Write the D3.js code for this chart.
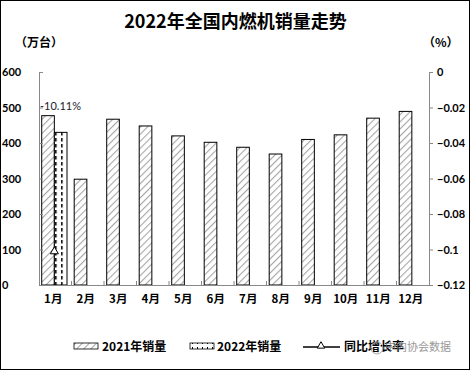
<!DOCTYPE html>
<html lang="zh">
<head>
    <meta charset="utf-8">
    <title>2022年全国内燃机销量走势</title>
    <script src="https://d3js.org/d3.v7.min.js"></script>
    <style>
        body { margin: 0; background: #fff; }
        text { font-family: Lato, "Noto Sans CJK SC", sans-serif; }
        .cjk { font-family: "Noto Sans CJK SC", sans-serif; }
    </style>
</head>
<body>
<svg width="471" height="371" id="mainsvg"></svg>
<script>
    // data
    const months = ['1月','2月','3月','4月','5月','6月','7月','8月','9月','10月','11月','12月']
    const sales2021 = [477, 298, 467, 448, 420, 402, 388, 369, 410, 423, 470, 489]
    const sales2022 = [430]              // only Jan
    const growth = [-0.1011]             // only Jan
    const growthLabels = ['-10.11%']
    const leftTicks = [0, 100, 200, 300, 400, 500, 600]
    const rightTicks = [0, -0.02, -0.04, -0.06, -0.08, -0.1, -0.12]

    const svg = d3.select('#mainsvg')
    const width = +svg.attr('width')
    const height = +svg.attr('height')
    const margin = {top: 72, right: 42, bottom: 86, left: 39}
    const innerWidth = width - margin.left - margin.right
    const innerHeight = height - margin.top - margin.bottom

    const xScale = d3.scaleBand().domain(months).range([0, innerWidth]).padding(0)
    const subScale = d3.scaleBand().domain(['2021', '2022']).range([2.7, 28])
    const yScale = d3.scaleLinear().domain([0, 600]).range([innerHeight, 0])
    const y2Scale = d3.scaleLinear().domain([-0.12, 0]).range([innerHeight, 0])

    // patterns
    const defs = svg.append('defs')
    const hatch = defs.append('pattern').attr('id', 'hatch')
        .attr('patternUnits', 'userSpaceOnUse').attr('width', 5).attr('height', 5)
        .attr('patternTransform', 'rotate(45)')
    hatch.append('rect').attr('width', 5).attr('height', 5).attr('fill', '#fff')
    hatch.append('line').attr('x1', 0).attr('y1', 0).attr('x2', 0).attr('y2', 5)
        .attr('stroke', '#a6a6a6').attr('stroke-width', 2.2)
    const dash = defs.append('pattern').attr('id', 'dash')
        .attr('patternUnits', 'userSpaceOnUse').attr('width', 6).attr('height', 6)
        .attr('x', subScale('2022') + 0.75)
    dash.append('rect').attr('width', 6).attr('height', 6).attr('fill', '#fff')
    dash.append('line').attr('x1', 0.75).attr('y1', 0).attr('x2', 0.75).attr('y2', 3.5)
        .attr('stroke', '#000').attr('stroke-width', 1.5)
    const dashLeg = defs.append('pattern').attr('id', 'dashLeg')
        .attr('patternUnits', 'userSpaceOnUse').attr('width', 5).attr('height', 6)
    dashLeg.append('rect').attr('width', 5).attr('height', 6).attr('fill', '#fff')
    dashLeg.append('line').attr('x1', 2.5).attr('y1', 0).attr('x2', 2.5).attr('y2', 3)
        .attr('stroke', '#000').attr('stroke-width', 1)

    // border
    svg.append('rect').attr('x', 0.5).attr('y', 0.5).attr('width', width - 2).attr('height', height - 2)
        .attr('fill', '#fff').attr('stroke', '#000').attr('stroke-width', 1)

    // title
    svg.append('text').attr('class', 'cjk').text('2022年全国内燃机销量走势')
        .attr('x', width / 2).attr('y', 28).attr('text-anchor', 'middle')
        .attr('font-size', 18).attr('font-weight', 'bold')
    svg.append('text').attr('class', 'cjk').text('（万台）')
        .attr('x', 15).attr('y', 47).attr('font-size', 12).attr('font-weight', 'bold')
    svg.append('text').attr('class', 'cjk').text('（%）')
        .attr('x', 423).attr('y', 47).attr('font-size', 12).attr('font-weight', 'bold')

    const g = svg.append('g').attr('transform', `translate(${margin.left}, ${margin.top})`)

    // bars 2021
    g.selectAll('.b21').data(sales2021).join('rect').attr('class', 'b21')
        .attr('x', (d, i) => xScale(months[i]) + subScale('2021'))
        .attr('width', subScale.bandwidth())
        .attr('y', d => yScale(d))
        .attr('height', d => innerHeight - yScale(d))
        .attr('fill', 'url(#hatch)').attr('stroke', '#000').attr('stroke-width', 1)

    // bars 2022
    g.selectAll('.b22').data(sales2022).join('rect').attr('class', 'b22')
        .attr('x', (d, i) => xScale(months[i]) + subScale('2022'))
        .attr('width', subScale.bandwidth())
        .attr('y', d => yScale(d))
        .attr('height', d => innerHeight - yScale(d))
        .attr('fill', 'url(#dash)').attr('stroke', '#000').attr('stroke-width', 1)

    // axes
    const yAxis = d3.axisLeft(yScale).tickValues(leftTicks).tickSizeInner(-4).tickSizeOuter(-4).tickPadding(18)
    const yG = g.append('g').call(yAxis)
    yG.selectAll('text').attr('font-size', 11).attr('font-weight', 'bold').attr('fill', '#000')
        .attr('text-anchor', 'start').attr('x', -37)

    const y2Axis = d3.axisRight(y2Scale).tickValues(rightTicks).tickSizeInner(4).tickSizeOuter(4).tickPadding(4)
        .tickFormat(d => d === 0 ? '0' : d3.format('')(+d.toFixed(2)))
    const y2G = g.append('g').attr('transform', `translate(${innerWidth}, 0)`).call(y2Axis)
    y2G.selectAll('text').attr('font-size', 11).attr('font-weight', 'bold').attr('fill', '#000')

    const xAxis = d3.axisBottom(xScale).tickSize(0).tickPadding(10)
    const xG = g.append('g').attr('transform', `translate(0, ${innerHeight})`).call(xAxis)
    xG.selectAll('text').attr('class', 'cjk').attr('font-size', 11.5).attr('font-weight', 'bold')
        .attr('fill', '#000').attr('dx', -2)
    // category boundary ticks
    g.selectAll('.xt').data(months.slice(1)).join('line').attr('class', 'xt')
        .attr('x1', d => xScale(d)).attr('x2', d => xScale(d))
        .attr('y1', innerHeight).attr('y2', innerHeight - 4)
        .attr('stroke', '#888')
    g.selectAll('.domain, .tick line').attr('stroke', '#888')

    // growth line point
    g.selectAll('.gpt').data(growth).join('path').attr('class', 'gpt')
        .attr('d', d3.symbol().type(d3.symbolTriangle).size(28))
        .attr('transform', (d, i) => `translate(${xScale(months[i]) + subScale('2022')}, ${y2Scale(d)})`)
        .attr('fill', '#fff').attr('stroke', '#000').attr('stroke-width', 1)
    g.selectAll('.glab').data(growthLabels).join('text').attr('class', 'glab')
        .text(d => d)
        .attr('x', (d, i) => xScale(months[i]) + 1)
        .attr('y', yScale(sales2021[0]) - 6)
        .attr('font-size', 11).attr('fill', '#1a1a2a')
        .attr('font-family', '"Liberation Sans", sans-serif')

    // legend
    const lg = svg.append('g').attr('transform', 'translate(0, 347)')
    lg.append('rect').attr('x', 74).attr('y', -4).attr('width', 24).attr('height', 6)
        .attr('fill', 'url(#hatch)').attr('stroke', '#000').attr('stroke-width', 0.8)
    lg.append('text').attr('class', 'cjk').text('2021年销量').attr('x', 102).attr('y', 4)
        .attr('font-size', 12).attr('font-weight', 'bold')
    lg.append('rect').attr('x', 190).attr('y', -4).attr('width', 24).attr('height', 6)
        .attr('fill', 'url(#dashLeg)').attr('stroke', '#000').attr('stroke-width', 0.8)
    lg.append('text').attr('class', 'cjk').text('2022年销量').attr('x', 217).attr('y', 4)
        .attr('font-size', 12).attr('font-weight', 'bold')
    lg.append('line').attr('x1', 303).attr('x2', 340).attr('y1', 0).attr('y2', 0)
        .attr('stroke', '#000').attr('stroke-width', 1.5)
    lg.append('path').attr('d', d3.symbol().type(d3.symbolTriangle).size(24))
        .attr('transform', 'translate(321, -1)').attr('fill', '#fff').attr('stroke', '#000')
    lg.append('text').attr('class', 'cjk').text('同比增长率').attr('x', 344).attr('y', 4)
        .attr('font-size', 12).attr('font-weight', 'bold')
    // watermark
    lg.append('circle').attr('cx', 377).attr('cy', 1).attr('r', 6)
        .attr('fill', 'none').attr('stroke', '#aaa').attr('stroke-width', 1)
    lg.append('text').attr('class', 'cjk').text('中内协会数据').attr('x', 385).attr('y', 4)
        .attr('font-size', 11).attr('fill', '#888').attr('opacity', 0.85)
</script>
</body>
</html>
